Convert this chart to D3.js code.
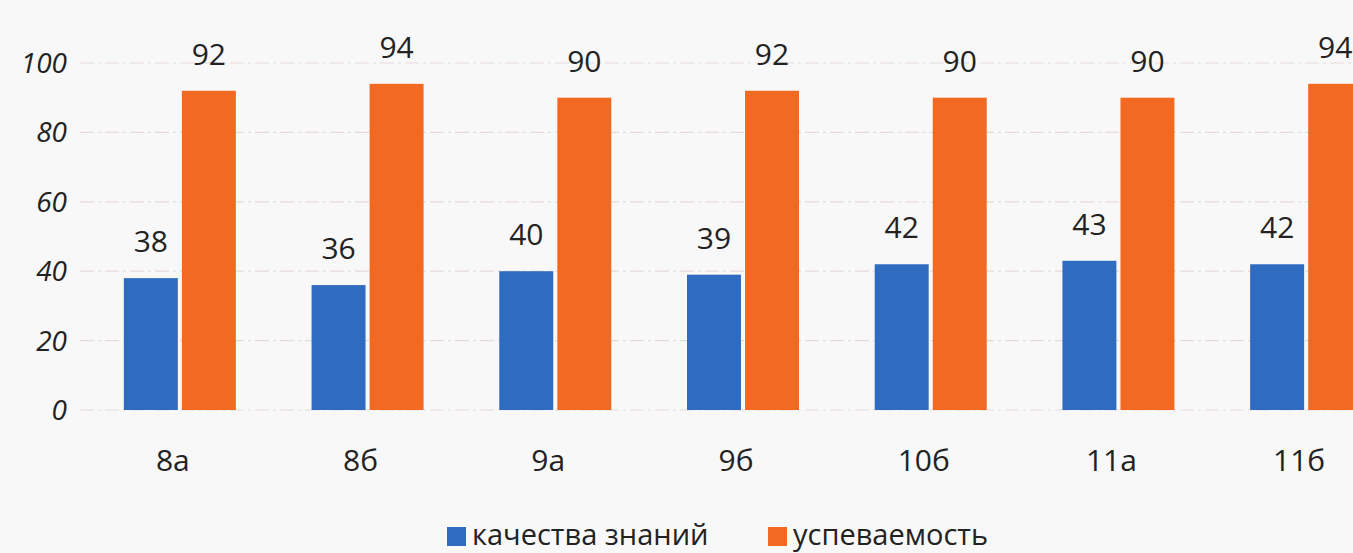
<!DOCTYPE html>
<html><head><meta charset="utf-8">
<script src="https://cdn.jsdelivr.net/npm/d3@7"></script>
<style>body{margin:0;background:#f8f8f8;}svg{display:block;}</style>
</head><body>
<svg id="chart" width="1353" height="553"></svg>
<script>
const categories = ["8а","8б","9а","9б","10б","11а","11б"];
const seriesNames = ["качества знаний","успеваемость"];
const quality = [38,36,40,39,42,43,42];
const progress = [92,94,90,92,90,90,94];
const yTicks = [0,20,40,60,80,100];
const colors = ["#2f6bc0","#f26a22"];

const svg = d3.select("#chart");
const font = "'Open Sans', 'Noto Sans', sans-serif";
const y = d3.scaleLinear().domain([0,100]).range([410,63]);
const x0 = d3.scaleBand().domain(categories).range([85,1399]).paddingInner(0);
const x1 = d3.scaleBand().domain(seriesNames).range([-55,57]).paddingInner(0.07);

// grid
svg.append("g").selectAll("line").data(yTicks).join("line")
  .attr("x1",80).attr("x2",1353)
  .attr("y1",d=>y(d)).attr("y2",d=>y(d))
  .attr("stroke","#e6d9d9").attr("stroke-width",1.2).attr("stroke-dasharray","14 4 3 4");

// y tick labels
svg.append("g").selectAll("text").data(yTicks).join("text")
  .attr("x",67).attr("y",d=>y(d)+10)
  .attr("text-anchor","end").attr("font-family",font).attr("font-style","italic")
  .attr("font-size",28).attr("fill","#222").text(d=>d);

const data = categories.map((c,i)=>({c, vals:[quality[i],progress[i]]}));
const groups = svg.append("g").selectAll("g").data(data).join("g")
  .attr("transform",d=>`translate(${x0(d.c)+x0.bandwidth()/2},0)`);

groups.selectAll("rect").data(d=>d.vals.map((v,j)=>({v,j}))).join("rect")
  .attr("x",d=>x1(seriesNames[d.j])).attr("width",x1.bandwidth())
  .attr("y",d=>y(d.v)).attr("height",d=>y(0)-y(d.v))
  .attr("fill",d=>colors[d.j]);

groups.selectAll("text.val").data(d=>d.vals.map((v,j)=>({v,j}))).join("text")
  .attr("class","val")
  .attr("x",d=>x1(seriesNames[d.j])+x1.bandwidth()/2)
  .attr("y",d=>y(d.v)-26)
  .attr("text-anchor","middle").attr("font-family",font).attr("font-size",30).attr("fill","#222")
  .text(d=>d.v);

// category labels
svg.append("g").selectAll("text").data(categories).join("text")
  .attr("x",d=>x0(d)+x0.bandwidth()/2-6).attr("y",471)
  .attr("text-anchor","middle").attr("font-family",font).attr("font-size",30).attr("fill","#222")
  .text(d=>d);

// legend
const legX = [447, 768];
const leg = svg.append("g").selectAll("g").data(seriesNames).join("g")
  .attr("transform",(d,i)=>`translate(${legX[i]},0)`);
leg.append("rect").attr("x",0).attr("y",527).attr("width",19).attr("height",19).attr("fill",(d,i)=>colors[i]);
leg.append("text").attr("x",25).attr("y",545).attr("font-family",font).attr("font-size",29).attr("fill","#222").text(d=>d);
</script>
</body></html>
